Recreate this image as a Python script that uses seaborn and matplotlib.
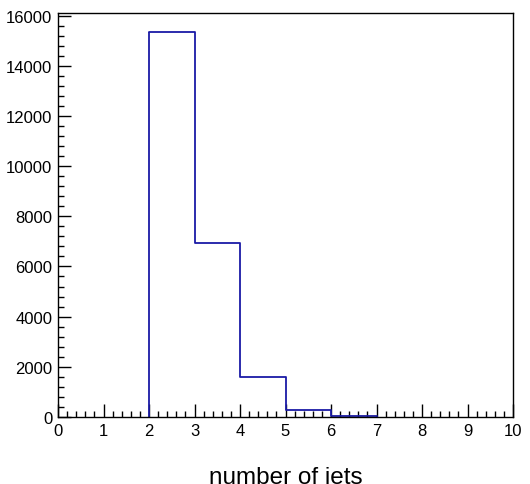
import numpy as np
import pandas as pd
import matplotlib
matplotlib.use("Agg")
import matplotlib.pyplot as plt
import seaborn as sns
from matplotlib.ticker import MultipleLocator

# data (only filled bins are drawn)
bin_edges = [2, 3, 4, 5, 6, 7]
n_jets = [2.5, 3.5, 4.5, 5.5, 6.5]
counts = [15350, 6920, 1590, 280, 50]

df = pd.DataFrame({"njets": n_jets, "counts": counts})

sns.set_style("white")
plt.rcParams["font.family"] = ["Liberation Sans", "DejaVu Sans"]

fig = plt.figure(figsize=(5.3, 4.85), dpi=100)
ax = fig.add_axes([58 / 530, 67 / 485, 455 / 530, 404 / 485])

hist_color = "#1a1aa6"
sns.histplot(data=df, x="njets", weights="counts", bins=bin_edges,
             element="step", fill=False, color=hist_color, linewidth=1.3, ax=ax)
# ROOT-style outline: close the first and last bins down to zero
ax.vlines([bin_edges[0], bin_edges[-1]], 0, [counts[0], counts[-1]],
          color=hist_color, linewidth=1.3)

ax.set_xlim(0, 10)
ax.set_ylim(0, 16100)

ax.xaxis.set_major_locator(MultipleLocator(1))
ax.xaxis.set_minor_locator(MultipleLocator(0.2))
ax.yaxis.set_major_locator(MultipleLocator(2000))
ax.yaxis.set_minor_locator(MultipleLocator(400))

ax.tick_params(which="both", direction="in", bottom=True, left=True,
               top=False, right=False, width=1, colors="black",
               labelsize=12)
ax.tick_params(which="major", length=9.5, pad=4)
ax.tick_params(which="minor", length=4.5)

for s in ax.spines.values():
    s.set_color("black")
    s.set_linewidth(1)
    s.set_zorder(3)

ax.set_ylabel("")
ax.set_xlabel("number of jets", fontsize=17.5, color="black")
ax.xaxis.set_label_coords(0.5, -0.121)

fig.savefig("out.png", dpi=100)
